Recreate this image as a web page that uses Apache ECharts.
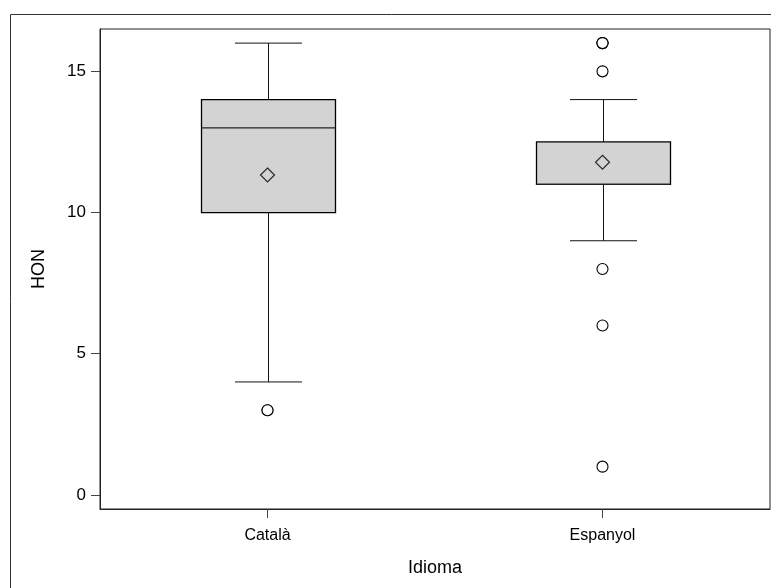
<!DOCTYPE html>
<html><head><meta charset="utf-8">
<script src="https://cdn.jsdelivr.net/npm/echarts@6/dist/echarts.min.js"></script>
<style>html,body{margin:0;padding:0;background:#fff}#c{width:771px;height:588px}</style>
</head><body><div id="c"></div>
<script>
var categories = ['Català', 'Espanyol'];
var whiskerLow = [4, 9];
var q1 = [10, 11];
var median = [13, 11];
var q3 = [14, 12.5];
var whiskerHigh = [16, 14];
var means = [11.33, 11.78];
var outlierCat = [0, 0, 1, 1, 1, 1, 1, 1, 1];
var outlierVal = [3, 3, 16, 16, 16, 15, 8, 6, 1];
var yTicks = [0, 5, 10, 15];

var boxData = categories.map(function (c, i) {
  return [i, whiskerLow[i], q1[i], median[i], q3[i], whiskerHigh[i]];
});
var meanData = categories.map(function (c, i) { return [i, means[i]]; });
var outlierData = outlierCat.map(function (c, i) { return [c, outlierVal[i]]; });

var font = '"Liberation Sans", Arial, sans-serif';
var chart = echarts.init(document.getElementById('c'), null, {renderer: 'canvas'});
chart.setOption({
  animation: false,
  backgroundColor: '#fff',
  graphic: [{
    type: 'rect', silent: true, z: -1,
    shape: {x: 10.5, y: 14.5, width: 800, height: 600},
    style: {fill: 'none', stroke: '#333', lineWidth: 1}
  }],
  grid: {left: 100, right: 1, top: 29, bottom: 79, show: true, borderColor: '#222', borderWidth: 1, backgroundColor: 'transparent'},
  xAxis: {
    type: 'category', data: categories,
    name: 'Idioma', nameLocation: 'middle', nameGap: 50,
    nameTextStyle: {fontFamily: font, fontSize: 18, color: '#000'},
    axisLine: {show: true, onZero: false, lineStyle: {color: '#222', width: 1}},
    axisTick: {show: true, alignWithLabel: true, length: 9, lineStyle: {color: '#444'}},
    axisLabel: {fontFamily: font, fontSize: 16, color: '#000', margin: 19},
    splitLine: {show: false}
  },
  yAxis: {
    type: 'value', min: -0.5, max: 16.5,
    name: 'HON', nameLocation: 'middle', nameGap: 52, nameRotate: 90,
    nameTextStyle: {fontFamily: font, fontSize: 18, color: '#000'},
    axisLine: {show: true, onZero: false, lineStyle: {color: '#222', width: 1}},
    axisTick: {show: true, length: 9, customValues: yTicks, lineStyle: {color: '#444'}},
    axisLabel: {fontFamily: font, fontSize: 17, color: '#000', margin: 14, customValues: yTicks},
    splitLine: {show: false}
  },
  series: [{
    type: 'custom',
    data: boxData,
    encode: {x: 0, y: [1, 2, 3, 4, 5]},
    renderItem: function (params, api) {
      var idx = api.value(0);
      var band = api.size([1, 0])[0];
      var bw = band * 0.4, cw = band * 0.2;
      var pLow = api.coord([idx, api.value(1)]);
      var pQ1 = api.coord([idx, api.value(2)]);
      var pMed = api.coord([idx, api.value(3)]);
      var pQ3 = api.coord([idx, api.value(4)]);
      var pHigh = api.coord([idx, api.value(5)]);
      var x = Math.round(pQ1[0]) + 0.5;
      var line = {stroke: '#111', lineWidth: 1};
      return {
        type: 'group',
        children: [
          {type: 'line', shape: {x1: x, y1: pHigh[1], x2: x, y2: pQ3[1]}, style: line},
          {type: 'line', shape: {x1: x, y1: pQ1[1], x2: x, y2: pLow[1]}, style: line},
          {type: 'line', shape: {x1: x - cw / 2, y1: pHigh[1], x2: x + cw / 2, y2: pHigh[1]}, style: line},
          {type: 'line', shape: {x1: x - cw / 2, y1: pLow[1], x2: x + cw / 2, y2: pLow[1]}, style: line},
          {type: 'rect', shape: {x: x - bw / 2, y: pQ3[1], width: bw, height: pQ1[1] - pQ3[1]},
            style: {fill: '#d3d3d3', stroke: '#000', lineWidth: 1.3}},
          {type: 'line', shape: {x1: x - bw / 2, y1: pMed[1], x2: x + bw / 2, y2: pMed[1]}, style: {stroke: '#222', lineWidth: 1.3}}
        ]
      };
    },
    z: 2
  }, {
    type: 'scatter', data: meanData, symbol: 'diamond', symbolSize: [14, 14],
    itemStyle: {color: 'transparent', borderColor: '#000', borderWidth: 1.2}, z: 5
  }, {
    type: 'scatter', data: outlierData, symbol: 'circle', symbolSize: 11,
    itemStyle: {color: '#fff', borderColor: '#000', borderWidth: 1.1, opacity: 1}, z: 5
  }]
});
</script></body></html>
